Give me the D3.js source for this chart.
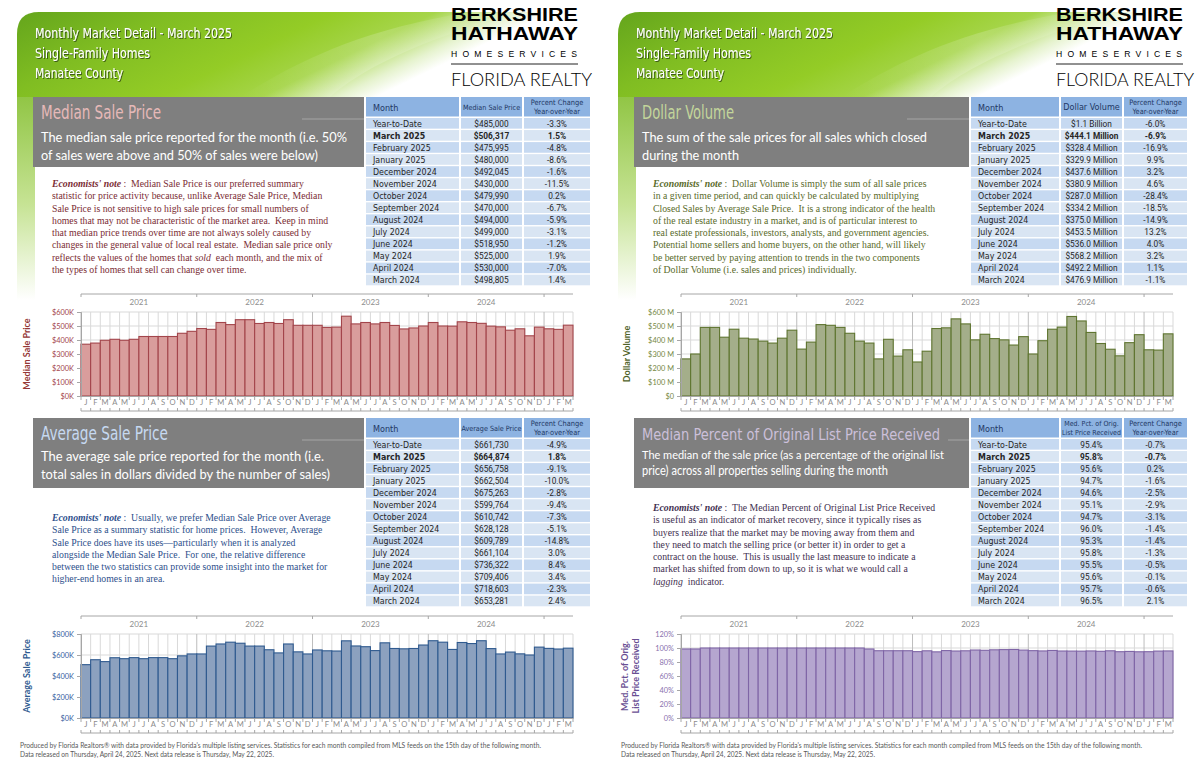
<!DOCTYPE html>
<html>
<head>
<meta charset="utf-8">
<script src="https://cdn.jsdelivr.net/npm/d3@7"></script>
<style>
  body { margin: 0; background: #fff; }
  svg { display: block; }
</style>
</head>
<body>
<script>
const width = 1200;
const height = 776;

const NARROW = "'Liberation Sans Narrow','DejaVu Sans Condensed','Roboto Condensed',Roboto,sans-serif";
const SANS = "Lato, 'Open Sans', sans-serif";
const SERIF = "'Liberation Serif', 'DejaVu Serif', serif";

// ---- chart data (Jan 2021 .. Mar 2025) ----
const monthInitials = ["J", "F", "M", "A", "M", "J", "J", "A", "S", "O", "N", "D"];
const chartYears = ["2021", "2022", "2023", "2024", "2025"];
const yearLabels = ["2021", "2022", "2023", "2024"];
const periods = [];
chartYears.forEach((yr) => monthInitials.forEach((m, i) => periods.push(`${yr}-${i}`)));
periods.splice(51); // last month shown is March 2025

// median sale price, $K
const medianPrice = [
  370, 378, 398, 405, 398, 405, 425, 425, 425, 425, 448, 462,
  482, 476, 525, 510, 545, 545, 518, 525, 518, 545, 505, 505,
  505, 490, 492, 570, 515, 525, 515, 525, 504, 479, 486, 500,
  525, 500, 499, 530, 525, 519, 499, 494, 470, 480, 430, 492,
  480, 476, 506
];
// average sale price, $K
const averagePrice = [
  508, 555, 537, 574, 565, 575, 565, 575, 575, 565, 592, 610,
  610, 685, 705, 722, 712, 685, 685, 650, 620, 705, 630, 610,
  648, 640, 638, 735, 686, 679, 642, 716, 662, 659, 662, 695,
  736, 722, 653, 719, 709, 736, 661, 610, 628, 611, 600, 675,
  663, 657, 665
];
// dollar volume, $M
const dollarVolume = [
  265, 300, 490, 490, 420, 477, 413, 407, 392, 378, 413, 470,
  335, 385, 510, 505, 490, 448, 392, 378, 265, 405, 285, 330,
  243, 320, 482, 487, 551, 515, 401, 441, 410, 401, 364, 424,
  300, 395, 477, 492, 568, 536, 454, 375, 334, 287, 381, 438,
  330, 328, 444
];
// median percent of original list price received, %
const pctOrigList = [
  98.6, 98.6, 100, 100, 100, 100, 100, 100, 100, 100, 100, 100,
  100, 100, 100, 100, 100, 100, 100, 98.6, 96.1, 96.1, 96.1, 96.1,
  94.8, 96.0, 94.5, 96.3, 95.7, 96.0, 97.1, 96.7, 97.4, 97.7, 97.9, 97.0,
  96.2, 95.8, 96.5, 95.7, 95.6, 95.5, 95.8, 95.3, 96.0, 94.7, 95.1, 94.6,
  94.7, 95.6, 95.8
];

const medianTicks = [0, 100, 200, 300, 400, 500, 600];
const averageTicks = [0, 200, 400, 600, 800];
const volumeTicks = [0, 100, 200, 300, 400, 500, 600];
const pctTicks = [0, 20, 40, 60, 80, 100, 120];

// ---- table data ----
const tableMonths = [
  "Year-to-Date", "March 2025", "February 2025", "January 2025", "December 2024",
  "November 2024", "October 2024", "September 2024", "August 2024", "July 2024",
  "June 2024", "May 2024", "April 2024", "March 2024"
];
const medianTable = ["$485,000", "$506,317", "$475,995", "$480,000", "$492,045", "$430,000", "$479,990",
  "$470,000", "$494,000", "$499,000", "$518,950", "$525,000", "$530,000", "$498,805"];
const medianYoY = ["-3.3%", "1.5%", "-4.8%", "-8.6%", "-1.6%", "-11.5%", "0.2%",
  "-6.7%", "-5.9%", "-3.1%", "-1.2%", "1.9%", "-7.0%", "1.4%"];
const averageTable = ["$661,730", "$664,874", "$656,758", "$662,504", "$675,263", "$599,764", "$610,742",
  "$628,128", "$609,789", "$661,104", "$736,322", "$709,406", "$718,603", "$653,281"];
const averageYoY = ["-4.9%", "1.8%", "-9.1%", "-10.0%", "-2.8%", "-9.4%", "-7.3%",
  "-5.1%", "-14.8%", "3.0%", "8.4%", "3.4%", "-2.3%", "2.4%"];
const volumeTable = ["$1.1 Billion", "$444.1 Million", "$328.4 Million", "$329.9 Million", "$437.6 Million",
  "$380.9 Million", "$287.0 Million", "$334.2 Million", "$375.0 Million", "$453.5 Million",
  "$536.0 Million", "$568.2 Million", "$492.2 Million", "$476.9 Million"];
const volumeYoY = ["-6.0%", "-6.9%", "-16.9%", "9.9%", "3.2%", "4.6%", "-28.4%",
  "-18.5%", "-14.9%", "13.2%", "4.0%", "3.2%", "1.1%", "-1.1%"];
const pctTable = ["95.4%", "95.8%", "95.6%", "94.7%", "94.6%", "95.1%", "94.7%",
  "96.0%", "95.3%", "95.8%", "95.5%", "95.6%", "95.7%", "96.5%"];
const pctYoY = ["-0.7%", "-0.7%", "0.2%", "-1.6%", "-2.5%", "-2.9%", "-3.1%",
  "-1.4%", "-1.4%", "-1.3%", "-0.5%", "-0.1%", "-0.6%", "2.1%"];

// ---- texts ----
const headerLines = ["Monthly Market Detail - March 2025", "Single-Family Homes", "Manatee County"];
const footerLines = [
  "Produced by Florida Realtors® with data provided by Florida's multiple listing services. Statistics for each month compiled from MLS feeds on the 15th day of the following month.",
  "Data released on Thursday, April 24, 2025. Next data release is Thursday, May 22, 2025."
];
const medianNote = [
  "*Economists' note* :  Median Sale Price is our preferred summary",
  "statistic for price activity because, unlike Average Sale Price, Median",
  "Sale Price is not sensitive to high sale prices for small numbers of",
  "homes that may not be characteristic of the market area.  Keep in mind",
  "that median price trends over time are not always solely caused by",
  "changes in the general value of local real estate.  Median sale price only",
  "reflects the values of the homes that _sold_  each month, and the mix of",
  "the types of homes that sell can change over time."
];
const averageNote = [
  "*Economists' note* :  Usually, we prefer Median Sale Price over Average",
  "Sale Price as a summary statistic for home prices.  However, Average",
  "Sale Price does have its uses\u2014particularly when it is analyzed",
  "alongside the Median Sale Price.  For one, the relative difference",
  "between the two statistics can provide some insight into the market for",
  "higher-end homes in an area."
];
const volumeNote = [
  "*Economists' note* :  Dollar Volume is simply the sum of all sale prices",
  "in a given time period, and can quickly be calculated by multiplying",
  "Closed Sales by Average Sale Price.  It is a strong indicator of the health",
  "of the real estate industry in a market, and is of particular interest to",
  "real estate professionals, investors, analysts, and government agencies.",
  "Potential home sellers and home buyers, on the other hand, will likely",
  "be better served by paying attention to trends in the two components",
  "of Dollar Volume (i.e. sales and prices) individually."
];
const pctNote = [
  "*Economists' note* :  The Median Percent of Original List Price Received",
  "is useful as an indicator of market recovery, since it typically rises as",
  "buyers realize that the market may be moving away from them and",
  "they need to match the selling price (or better it) in order to get a",
  "contract on the house.  This is usually the last measure to indicate a",
  "market has shifted from down to up, so it is what we would call a",
  "_lagging_  indicator."
];

let svg = d3.select("body").append("svg")
  .attr("width", width)
  .attr("height", height);

const defs = svg.append("defs");
const hg = defs.append("linearGradient").attr("id", "hdr").attr("x1", 0).attr("x2", 1).attr("y1", 0).attr("y2", 0.3);
[[0, "#64a51c"], [0.25, "#80bd22"], [0.5, "#94cc26"], [0.66, "#a6d54a"], [0.78, "#e6f3cf"], [0.84, "#ffffff"]]
  .forEach(([o, c]) => hg.append("stop").attr("offset", o).attr("stop-color", c));
const sg = defs.append("linearGradient").attr("id", "strip").attr("x1", 0).attr("x2", 0).attr("y1", 0).attr("y2", 1);
[[0, "#7fbb2a"], [0.6, "#c6e394"], [1, "#ffffff"]]
  .forEach(([o, c]) => sg.append("stop").attr("offset", o).attr("stop-color", c));
const sw = defs.append("linearGradient").attr("id", "swoosh").attr("x1", 0).attr("x2", 1).attr("y1", 0).attr("y2", 0);
[[0, "#ffffff", 0], [0.5, "#ffffff", 0.18], [1, "#ffffff", 0]]
  .forEach(([o, c, a]) => sw.append("stop").attr("offset", o).attr("stop-color", c).attr("stop-opacity", a));
defs.append("filter").attr("id", "shadow").attr("x", -0.1).attr("y", -0.3).attr("width", 1.2).attr("height", 1.6)
  .append("feDropShadow").attr("dx", 1).attr("dy", 1).attr("stdDeviation", 0.7)
  .attr("flood-color", "#2a3d10").attr("flood-opacity", 0.75);

// stretch a text to a given length; if its natural width overflows maxLen, shrink the font first
function fitText(sel, len, maxLen) {
  if (maxLen) {
    const n = sel.node().getComputedTextLength();
    if (n > maxLen) {
      const fs = parseFloat(sel.style("font-size"));
      sel.style("font-size", (fs * maxLen / n).toFixed(2) + "px");
    }
  }
  return sel.attr("textLength", len).attr("lengthAdjust", "spacingAndGlyphs");
}

function drawPanel(p) {
  const ox = p.ox;
  const g = svg.append("g");
  // green side strip and header band
  g.append("rect").attr("x", ox + 17).attr("y", 60).attr("width", 18).attr("height", 240).attr("fill", "url(#strip)");
  g.append("path")
    .attr("d", `M${ox + 17},97 L${ox + 17},34 Q${ox + 17},12 ${ox + 39},12 L${ox + 600},12 L${ox + 600},97 Z`)
    .attr("fill", "url(#hdr)");
  g.append("path")
    .attr("d", `M${ox + 240},97 C${ox + 300},60 ${ox + 360},30 ${ox + 470},12 L${ox + 520},12 C${ox + 420},40 ${ox + 360},70 ${ox + 330},97 Z`)
    .attr("fill", "url(#swoosh)");

  headerLines.forEach((t, i) => {
    fitText(g.append("text")
      .attr("x", ox + 35).attr("y", 38 + i * 20)
      .attr("fill", "#fff").attr("filter", "url(#shadow)")
      .style("font-family", NARROW).style("font-size", "14.5px")
      .text(t), p.headerW[i]);
  });

  // logo
  const lx = p.logoX;
  fitText(g.append("text").attr("x", lx).attr("y", 21).text("BERKSHIRE")
    .style("font-family", "'Liberation Sans', Arial, sans-serif").style("font-weight", "bold").style("font-size", "18px"), 127);
  fitText(g.append("text").attr("x", lx).attr("y", 40).text("HATHAWAY")
    .style("font-family", "'Liberation Sans', Arial, sans-serif").style("font-weight", "bold").style("font-size", "18px"), 127);
  g.append("text").attr("x", lx).attr("y", 57).text("HOMESERVICES")
    .style("font-family", "'Liberation Sans', Arial, sans-serif").style("font-size", "8.6px")
    .attr("textLength", 126).attr("lengthAdjust", "spacing");
  g.append("line").attr("x1", lx).attr("x2", lx + 127).attr("y1", 64).attr("y2", 64).attr("stroke", "#222").attr("stroke-width", 1);
  fitText(g.append("text").attr("x", lx).attr("y", 86).text("FLORIDA REALTY")
    .style("font-family", "Lato, Roboto, sans-serif").style("font-weight", 300).style("font-size", "19px"),
  p.floridaW, p.floridaW);

  // footer
  footerLines.forEach((t, i) => {
    fitText(g.append("text").attr("x", ox + 20).attr("y", 748 + i * 9).text(t)
      .attr("fill", "#595959").style("font-family", SANS).style("font-size", "6.8px"), i === 0 ? 521 : 254);
  });
}

function drawNote(x, y0, lines, color) {
  const t = svg.append("text").attr("fill", color)
    .style("font-family", SERIF).style("font-size", "9.75px");
  lines.forEach((line, i) => {
    const lineT = t.append("tspan").attr("x", x).attr("y", y0 + i * 12.25);
    line.split(/(\*[^*]+\*|_[^_]+_)/).filter((s) => s.length).forEach((seg) => {
      const sp = lineT.append("tspan");
      if (seg.startsWith("*")) {
        sp.text(seg.slice(1, -1)).style("font-weight", "bold").style("font-style", "italic");
      } else if (seg.startsWith("_")) {
        sp.text(seg.slice(1, -1)).style("font-style", "italic");
      } else {
        sp.text(seg);
      }
    });
  });
  t.style("white-space", "pre");
}

function drawSection(s) {
  const g = svg.append("g");
  const boxRight = s.boxX + s.boxW;
  g.append("rect").attr("x", s.boxX).attr("y", s.top).attr("width", s.boxW).attr("height", 70).attr("fill", "#7f7f7f");
  fitText(g.append("text").attr("x", s.boxX + 8).attr("y", s.top + 22).text(s.title)
    .attr("fill", s.titleColor).style("font-family", NARROW).style("font-size", "20px"),
  s.titleW, boxRight - s.boxX - 12);
  const lineStart = Math.max(s.boxX + 8 + s.titleW + 8, boxRight - 62);
  g.append("line").attr("x1", lineStart).attr("x2", boxRight)
    .attr("y1", s.top + 22).attr("y2", s.top + 22).attr("stroke", "#b0b0b0").attr("stroke-width", 0.8);
  s.sub.forEach((t, i) => {
    fitText(g.append("text").attr("x", s.boxX + 8).attr("y", s.top + s.subY[i]).text(t)
      .attr("fill", "#fff").style("font-family", SANS).style("font-size", s.subSize + "px"),
    s.subW[i], boxRight - s.boxX - 12);
  });
  drawNote(s.boxX + 19, s.noteY, s.note, s.noteColor);
  drawTable(s);
}

function drawTable(s) {
  const tx = s.tableX, ty = s.top, cols = s.cols;
  const headH = 21, rowH = 12.05;
  const xs = [tx, tx + cols[0] + 2, tx + cols[0] + cols[1] + 4];
  const g = svg.append("g").style("font-family", NARROW);
  xs.forEach((x, c) => {
    g.append("rect").attr("x", x).attr("y", ty).attr("width", cols[c]).attr("height", headH - 1.5).attr("fill", "#8db3e2");
  });
  g.append("text").attr("x", xs[0] + 7).attr("y", ty + 13.5).text("Month")
    .attr("fill", "#1f3864").style("font-size", "9px");
  const hdr2 = s.colHeader;
  hdr2.forEach((t, i) => {
    g.append("text").attr("x", xs[1] + cols[1] / 2).attr("text-anchor", "middle")
      .attr("y", hdr2.length === 1 ? ty + 13 : ty + 8.3 + i * 8.6).text(t)
      .attr("fill", "#1f3864").style("font-size", s.colHeaderSize + "px");
  });
  ["Percent Change", "Year-over-Year"].forEach((t, i) => {
    g.append("text").attr("x", xs[2] + cols[2] / 2).attr("text-anchor", "middle")
      .attr("y", ty + 8.3 + i * 8.6).text(t).attr("fill", "#1f3864").style("font-size", "7.4px");
  });

  const rows = g.selectAll("g.row").data(tableMonths).join("g").attr("class", "row")
    .attr("transform", (d, i) => `translate(0,${ty + headH + i * rowH})`);
  xs.forEach((x, c) => {
    rows.append("rect").attr("x", x).attr("y", 0).attr("width", cols[c]).attr("height", rowH - 1.4)
      .attr("fill", (d, i) => (i % 2 === 0 ? "#c6d9f1" : "#d9e5f3"));
  });
  rows.append("text").attr("x", xs[0] + 7).attr("y", 8.6).text((d) => d)
    .attr("fill", "#262626").style("font-size", "8.8px")
    .style("font-weight", (d, i) => (i === 1 ? "bold" : null));
  rows.append("text").attr("x", xs[1] + cols[1] / 2).attr("y", 8.6).attr("text-anchor", "middle")
    .text((d, i) => s.values[i]).attr("fill", "#262626")
    .style("font-family", "Roboto, sans-serif").style("font-size", "8.3px")
    .style("font-weight", (d, i) => (i === 1 ? "bold" : null));
  rows.append("text").attr("x", xs[2] + cols[2] / 2).attr("y", 8.6).attr("text-anchor", "middle")
    .text((d, i) => s.yoy[i]).attr("fill", "#262626")
    .style("font-family", "Roboto, sans-serif").style("font-size", "8.3px")
    .style("font-weight", (d, i) => (i === 1 ? "bold" : null));
}

function drawChart(c) {
  const x = d3.scaleBand().domain(periods).range([c.ox + 81, c.ox + 573]).padding(0);
  const y = d3.scaleLinear().domain([0, c.ticks[c.ticks.length - 1]]).range([c.bottom, c.top]);
  const [x0, x1] = x.range();
  const bw = x.bandwidth();
  const bounds = periods.map((p) => x(p)).concat([x1]);
  const g = svg.append("g");

  g.append("g").selectAll("line").data(c.ticks).join("line")
    .attr("x1", x0).attr("x2", x1).attr("y1", (d) => y(d)).attr("y2", (d) => y(d))
    .attr("stroke", "#d9d9d9");
  g.append("g").selectAll("line").data(bounds).join("line")
    .attr("x1", (d) => d).attr("x2", (d) => d).attr("y1", c.top).attr("y2", c.bottom)
    .attr("stroke", (d, i) => (i % 12 === 0 ? "#bdbdbd" : "#d9d9d9"));

  g.append("g").selectAll("rect").data(c.values).join("rect")
    .attr("x", (d, i) => x(periods[i]))
    .attr("y", (d) => y(d))
    .attr("width", bw)
    .attr("height", (d) => c.bottom - y(d))
    .attr("fill", c.fill)
    .attr("stroke", c.stroke)
    .attr("stroke-width", 1.1);

  const ya = g.append("g").attr("transform", `translate(${x0},0)`)
    .call(d3.axisLeft(y).tickValues(c.ticks).tickFormat(c.fmt).tickSize(4).tickPadding(3));
  ya.select(".domain").attr("stroke", "#a6a6a6");
  ya.selectAll(".tick line").attr("stroke", "#a6a6a6");
  ya.selectAll(".tick text").attr("fill", c.tickColor)
    .style("font-family", SANS).style("font-size", "7.4px");

  const xa = g.append("g").attr("transform", `translate(0,${c.bottom})`)
    .call(d3.axisBottom(x).tickFormat((d, i) => monthInitials[i % 12]).tickSize(0).tickPadding(3.5));
  xa.select(".domain").attr("stroke", "#a6a6a6");
  xa.selectAll(".tick text").attr("fill", "#8c8c8c")
    .style("font-family", SANS).style("font-size", "7.6px");

  // month boundary ticks and bracket
  g.append("g").selectAll("line").data(bounds).join("line")
    .attr("x1", (d) => d).attr("x2", (d) => d).attr("y1", c.bottom).attr("y2", c.bottom + 4)
    .attr("stroke", "#a6a6a6");
  g.append("line").attr("x1", x0).attr("x2", x1).attr("y1", c.bottom + 15).attr("y2", c.bottom + 15)
    .attr("stroke", "#a6a6a6");
  g.append("g").selectAll("line").data(bounds).join("line")
    .attr("x1", (d) => d).attr("x2", (d) => d).attr("y1", c.bottom + 15).attr("y2", c.bottom + 12)
    .attr("stroke", "#a6a6a6");

  // year axis on top
  const ty = c.top - 18;
  g.append("line").attr("x1", x0).attr("x2", x1).attr("y1", ty).attr("y2", ty).attr("stroke", "#a6a6a6");
  g.append("g").selectAll("line").data(chartYears).join("line")
    .attr("x1", (d) => x(`${d}-0`)).attr("x2", (d) => x(`${d}-0`))
    .attr("y1", ty).attr("y2", ty + 3).attr("stroke", "#a6a6a6");
  g.append("g").selectAll("text").data(yearLabels).join("text")
    .attr("x", (d) => x(`${d}-0`) + 6 * bw).attr("y", c.top - 7)
    .attr("text-anchor", "middle").attr("fill", "#8c8c8c")
    .style("font-family", SANS).style("font-size", "8px")
    .text((d) => d);

  // axis title
  const mid = (c.top + c.bottom) / 2;
  c.title.forEach((t, i) => {
    g.append("text")
      .attr("transform", `translate(${c.ox + c.titleX[i]},${mid}) rotate(-90)`)
      .attr("text-anchor", "middle").attr("fill", c.titleColor)
      .style("font-family", SANS).style("font-weight", "bold").style("font-size", "9px")
      .text(t);
  });
}

// ---- draw ----
drawPanel({ ox: 0, logoX: 451, headerW: [197, 115, 88], floridaW: 141 });
drawPanel({ ox: 601, logoX: 1056, headerW: [197, 115, 88], floridaW: 138 });

drawSection({
  boxX: 33, boxW: 331, top: 97, title: "Median Sale Price", titleColor: "#e6b9b8", titleW: 120,
  sub: ["The median sale price reported for the month (i.e. 50%", "of sales were above and 50% of sales were below)"],
  subW: [306, 277], subY: [45, 63], subSize: 14,
  noteY: 187, note: medianNote, noteColor: "#7b2d34",
  tableX: 366, cols: [93, 61, 66], colHeader: ["Median Sale Price"], colHeaderSize: 7.2,
  values: medianTable, yoy: medianYoY
});
drawSection({
  boxX: 33, boxW: 331, top: 418, title: "Average Sale Price", titleColor: "#c6d9f1", titleW: 127,
  sub: ["The average sale price reported for the month (i.e.", "total sales in dollars divided by the number of sales)"],
  subW: [283, 289], subY: [43, 61], subSize: 14,
  noteY: 521, note: averageNote, noteColor: "#2e508c",
  tableX: 366, cols: [93, 61, 66], colHeader: ["Average Sale Price"], colHeaderSize: 7.2,
  values: averageTable, yoy: averageYoY
});
drawSection({
  boxX: 634, boxW: 335, top: 97, title: "Dollar Volume", titleColor: "#c3d69b", titleW: 92,
  sub: ["The sum of the sale prices for all sales which closed", "during the month"],
  subW: [285, 97], subY: [45, 63], subSize: 14,
  noteY: 187, note: volumeNote, noteColor: "#5a6b2a",
  tableX: 971, cols: [88, 61, 63], colHeader: ["Dollar Volume"], colHeaderSize: 9,
  values: volumeTable, yoy: volumeYoY
});
drawSection({
  boxX: 634, boxW: 335, top: 418, title: "Median Percent of Original List Price Received", titleColor: "#ccc0da", titleW: 298,
  sub: ["The median of the sale price (as a percentage of the original list", "price) across all properties selling during the month"],
  subW: [302, 246], subY: [41, 57], subSize: 12.5,
  noteY: 511, note: pctNote, noteColor: "#3f3151",
  tableX: 971, cols: [88, 61, 63], colHeader: ["Med. Pct. of Orig.", "List Price Received"], colHeaderSize: 7,
  values: pctTable, yoy: pctYoY
});

drawChart({
  ox: 0, top: 312, bottom: 396, values: medianPrice, ticks: medianTicks,
  fmt: (d) => `$${d}K`, fill: "#d99d9c", stroke: "#a3454b", tickColor: "#a3454b",
  title: ["Median Sale Price"], titleX: [30], titleColor: "#953735"
});
drawChart({
  ox: 0, top: 634, bottom: 718, values: averagePrice, ticks: averageTicks,
  fmt: (d) => `$${d}K`, fill: "#8ca1bf", stroke: "#2f5a8f", tickColor: "#3a62a0",
  title: ["Average Sale Price"], titleX: [30], titleColor: "#2f5a8f"
});
drawChart({
  ox: 600, top: 312, bottom: 396, values: dollarVolume, ticks: volumeTicks,
  fmt: (d) => (d === 0 ? "$0" : `$${d} M`), fill: "#a4ae8a", stroke: "#5f7530", tickColor: "#76883f",
  title: ["Dollar Volume"], titleX: [30], titleColor: "#4f6228"
});
drawChart({
  ox: 600, top: 634, bottom: 718, values: pctOrigList, ticks: pctTicks,
  fmt: (d) => `${d}%`, fill: "#b5a6cf", stroke: "#7f65a6", tickColor: "#8a72ad",
  title: ["Med. Pct. of Orig.", "List Price Received"], titleX: [28, 39], titleColor: "#6a4f94"
});
</script>
</body>
</html>
